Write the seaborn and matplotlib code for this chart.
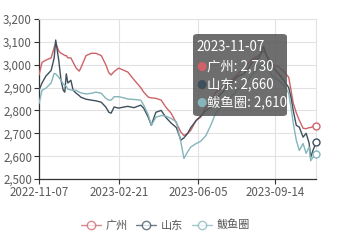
import matplotlib
matplotlib.use("Agg")
import matplotlib.pyplot as plt
from matplotlib.lines import Line2D
from matplotlib.patches import FancyBboxPatch
import pandas as pd
import seaborn as sns

dates = ["2022-11-07", "2022-11-11", "2022-11-16", "2022-11-23", "2022-11-27", "2022-11-29",
         "2022-12-03", "2022-12-06", "2022-12-09", "2022-12-11", "2022-12-13", "2022-12-15",
         "2022-12-19", "2022-12-22", "2022-12-26", "2022-12-30", "2023-01-01", "2023-01-08",
         "2023-01-15", "2023-01-21", "2023-01-28", "2023-02-03", "2023-02-07", "2023-02-10",
         "2023-02-14", "2023-02-20", "2023-02-27", "2023-03-04", "2023-03-12", "2023-03-21",
         "2023-03-25", "2023-03-31", "2023-04-04", "2023-04-10", "2023-04-17", "2023-04-23",
         "2023-04-30", "2023-05-07", "2023-05-13", "2023-05-17", "2023-05-22", "2023-05-26",
         "2023-06-02", "2023-06-08", "2023-06-15", "2023-06-22", "2023-06-28", "2023-07-07",
         "2023-07-18", "2023-07-27", "2023-08-04", "2023-08-11", "2023-08-17", "2023-08-24",
         "2023-08-30", "2023-09-05", "2023-09-11", "2023-09-19", "2023-09-26", "2023-10-02",
         "2023-10-05", "2023-10-08", "2023-10-12", "2023-10-16", "2023-10-21", "2023-10-25",
         "2023-10-29", "2023-10-31", "2023-11-03", "2023-11-07"]

guangzhou = [2955, 3010, 3020, 3030, 3075, 3095, 3060, 3050, 3045, 3040, 3040, 3030,
             3030, 3010, 2985, 2972, 2985, 3040, 3050, 3050, 3040, 3000, 2965, 2955,
             2970, 2985, 2975, 2968, 2935, 2900, 2880, 2858, 2855, 2853, 2845, 2815,
             2788, 2745, 2705, 2690, 2700, 2713, 2757, 2770, 2815, 2845, 2880, 2900,
             2930, 2960, 2985, 3010, 3030, 3040, 3060, 3030, 3000, 2990, 2970, 2945,
             2890, 2832, 2790, 2757, 2722, 2720, 2725, 2725, 2730, 2730]

shandong = [2888, 2920, 2950, 2975, 3030, 3108, 3020, 2932, 2888, 2880, 2960, 2920,
            2932, 2888, 2875, 2865, 2858, 2849, 2845, 2842, 2836, 2815, 2792, 2788,
            2815, 2810, 2815, 2818, 2812, 2823, 2810, 2770, 2735, 2792, 2800, 2770,
            2745, 2725, 2670, 2680, 2700, 2725, 2755, 2775, 2800, 2815, 2850, 2880,
            2920, 2950, 2960, 2990, 3020, 3030, 3080, 3020, 2990, 2960, 2930, 2900,
            2858, 2800, 2735, 2727, 2683, 2700, 2656, 2595, 2625, 2660]

bayuquan = [2830, 2888, 2897, 2920, 2962, 2960, 2945, 2932, 2915, 2910, 2905, 2893,
            2890, 2888, 2888, 2880, 2877, 2872, 2875, 2880, 2875, 2853, 2845, 2845,
            2860, 2860, 2855, 2850, 2848, 2845, 2823, 2780, 2735, 2770, 2778, 2775,
            2765, 2750, 2660, 2590, 2620, 2640, 2655, 2665, 2690, 2740, 2790, 2820,
            2860, 2890, 2910, 2940, 2965, 2985, 3010, 2980, 2950, 2930, 2910, 2875,
            2815, 2745, 2670, 2625, 2655, 2612, 2640, 2580, 2595, 2610]

series_names = ["广州", "山东", "鲅鱼圈"]
colors = ["#cf6268", "#3f505d", "#84b5bb"]
x_ticks = ["2022-11-07", "2023-02-21", "2023-06-05", "2023-09-14"]
y_ticks = [2500, 2600, 2700, 2800, 2900, 3000, 3100, 3200]
tooltip_date = "2023-11-07"

sns.set_theme(style="white")
plt.rcParams["font.family"] = ["Noto Sans CJK SC", "DejaVu Sans"]

df = pd.DataFrame({
    "date": pd.to_datetime(dates * 3),
    "value": guangzhou + shandong + bayuquan,
    "region": sum([[n] * len(dates) for n in series_names], []),
})

fig = plt.figure(figsize=(3.48, 2.41), dpi=100)
ax = fig.add_axes([39 / 348, 1 - 179 / 241, 277 / 348, 160 / 241])

sns.lineplot(data=df, x="date", y="value", hue="region", hue_order=series_names,
             palette=colors, linewidth=1.0, legend=False, ax=ax, zorder=3)

# hollow end markers
last = df[df["date"] == df["date"].max()]
for name, c in zip(series_names, colors):
    v = last[last["region"] == name]
    ax.plot(v["date"], v["value"], marker="o", markersize=5, markerfacecolor="white",
            markeredgecolor=c, markeredgewidth=1.0, linestyle="none", zorder=5,
            clip_on=False)

ax.set_xlim(pd.Timestamp(dates[0]), pd.Timestamp(dates[-1]))
ax.set_ylim(2500, 3200)
ax.set_yticks(y_ticks)
ax.set_yticklabels([f"{v:,}" for v in y_ticks])
ax.set_xticks(pd.to_datetime(x_ticks))
ax.set_xticklabels(x_ticks)
ax.set_xlabel("")
ax.set_ylabel("")
ax.grid(True, color="#e2e2e2", linewidth=0.8)
ax.set_axisbelow(True)
for s in ["top", "right"]:
    ax.spines[s].set_visible(True)
    ax.spines[s].set_color("#e2e2e2")
    ax.spines[s].set_linewidth(0.8)
ax.spines["left"].set_color("#333333")
ax.spines["bottom"].set_color("#333333")
ax.spines["left"].set_linewidth(0.9)
ax.spines["bottom"].set_linewidth(0.9)
ax.tick_params(axis="both", which="major", length=3.5, width=0.8, color="#333333",
               labelsize=8.3, labelcolor="#5a5a5a", pad=1.5, direction="out",
               bottom=True, left=True)

# legend
handles = [Line2D([0], [0], color=c, linewidth=1.0, marker="o", markersize=6,
                  markerfacecolor="white", markeredgecolor=c, alpha=0.75)
           for c in colors]
fig.legend(handles, series_names, loc="center", bbox_to_anchor=(0.475, 1 - 225 / 241),
           ncol=3, frameon=False, fontsize=8, handlelength=1.8, handletextpad=0.4,
           columnspacing=0.8, labelcolor="#555555")

# tooltip
box = FancyBboxPatch((193 / 348, 1 - 116 / 241), 94 / 348, 82 / 241,
                     boxstyle="round,pad=0,rounding_size=0.012",
                     transform=fig.transFigure, facecolor="#555555", edgecolor="none",
                     alpha=0.85, zorder=10)
fig.patches.append(box)
fig.text(196 / 348, 1 - 47 / 241, tooltip_date, color="white", fontsize=9.6,
         va="center", ha="left", zorder=11)
final_vals = [guangzhou[-1], shandong[-1], bayuquan[-1]]
for i, (name, c, v) in enumerate(zip(series_names, colors, final_vals)):
    yy = 1 - (66 + 18 * i) / 241
    fig.text(201 / 348, yy, "●", color=c, fontsize=8.5, va="center", ha="center",
             family=["DejaVu Sans"], zorder=11)
    fig.text(207 / 348, yy, f"{name}: {v:,}", color="white", fontsize=9.6,
             va="center", ha="left", zorder=11)

fig.savefig("out.png", dpi=100)
